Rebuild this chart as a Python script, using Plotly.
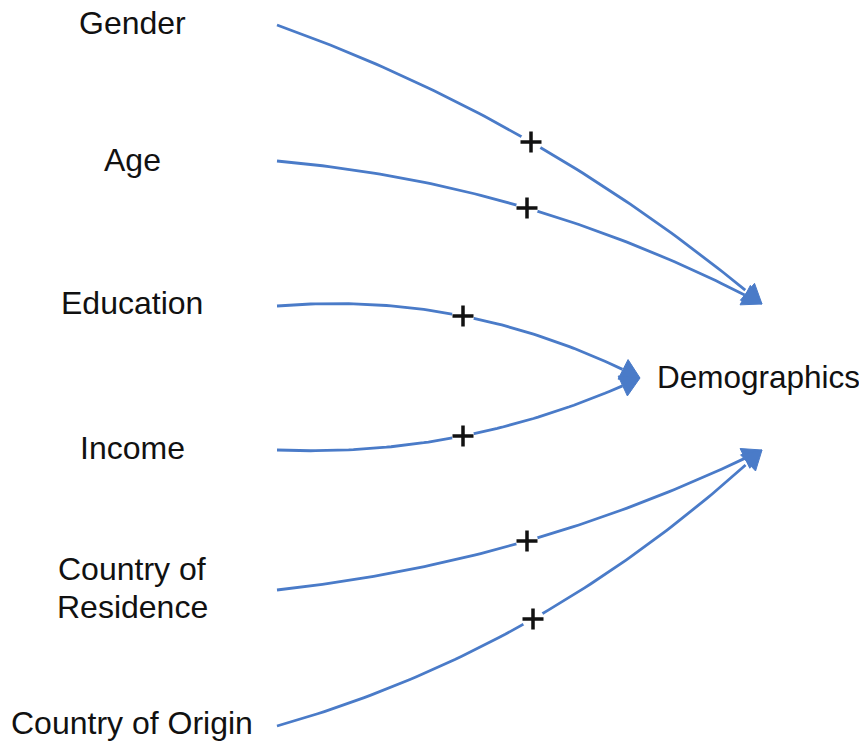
import numpy as np
import plotly.graph_objects as go

# Diagram data
labels = ["Gender", "Age", "Education", "Income", "Country of<br>Residence", "Country of Origin"]
label_x = [132, 132, 132, 132, 132, 132]
label_y = [23, 160, 303, 448, 588, 723]

start_x = [277, 277, 277, 277, 277, 277]
start_y = [25, 161, 306, 450, 590, 726]
end_x = [762, 762, 640, 640, 762, 762]
end_y = [304, 304, 378, 378, 450, 450]
plus_x = [531, 527, 463, 463, 527, 533]
plus_y = [142, 208, 316, 436, 541, 619]
signs = ["+", "+", "+", "+", "+", "+"]

target = "Demographics"
target_x = 655
target_y = 377

BLUE = "#4a7bc8"
HEAD_LEN = 19
HEAD_W = 22
OFF = 8  # page body margin compensation
LINE_GAP = 38

fig = go.Figure()

t = np.linspace(0, 1, 80)
for i in range(len(labels)):
    p0 = np.array([start_x[i], start_y[i]], float)
    p2 = np.array([end_x[i], end_y[i]], float)
    pm = np.array([plus_x[i], plus_y[i]], float)
    c = 2 * pm - 0.5 * p0 - 0.5 * p2
    pts = ((1 - t) ** 2)[:, None] * p0 + (2 * (1 - t) * t)[:, None] * c + (t ** 2)[:, None] * p2
    d = p2 - c
    d = d / np.linalg.norm(d)
    n = np.array([-d[1], d[0]])
    base = p2 - HEAD_LEN * d
    keep = np.linalg.norm(pts - p2, axis=1) >= HEAD_LEN - 2
    line_pts = pts[keep]
    fig.add_trace(go.Scatter(x=line_pts[:, 0], y=line_pts[:, 1], mode="lines",
                             line=dict(color=BLUE, width=2.8), hoverinfo="skip"))
    tri = np.array([p2, base + n * HEAD_W / 2, base - n * HEAD_W / 2, p2])
    fig.add_trace(go.Scatter(x=tri[:, 0], y=tri[:, 1], mode="lines", fill="toself",
                             fillcolor=BLUE, line=dict(color=BLUE, width=1), hoverinfo="skip"))

# plus signs with white gap
fig.add_trace(go.Scatter(x=plus_x, y=plus_y, mode="markers",
                         marker=dict(symbol="circle", size=22, color="white", line=dict(width=0)),
                         hoverinfo="skip"))
fig.add_trace(go.Scatter(x=plus_x, y=plus_y, mode="markers",
                         marker=dict(symbol="cross-thin", size=15, color="#111",
                                     line=dict(width=3.5, color="#111")),
                         hoverinfo="skip"))

FONT = dict(family="Liberation Sans, Arial", size=32, color="#111")
for lx, ly, lab in zip(label_x, label_y, labels):
    parts = lab.split("<br>")
    k = len(parts)
    for j, part in enumerate(parts):
        yy = ly + (j - (k - 1) / 2) * LINE_GAP
        fig.add_annotation(x=lx, y=yy, text=part, showarrow=False, xanchor="center",
                           yanchor="middle", font=FONT)
fig.add_annotation(x=target_x, y=target_y, text=target, showarrow=False, xanchor="left",
                   yanchor="middle", font=dict(FONT, size=31.5))

fig.update_layout(width=867 - OFF, height=744 - OFF, margin=dict(l=0, r=0, t=0, b=0),
                  paper_bgcolor="white", plot_bgcolor="white", showlegend=False,
                  xaxis=dict(range=[OFF, 867], visible=False),
                  yaxis=dict(range=[744, OFF], visible=False))
fig.write_html("out.html")
